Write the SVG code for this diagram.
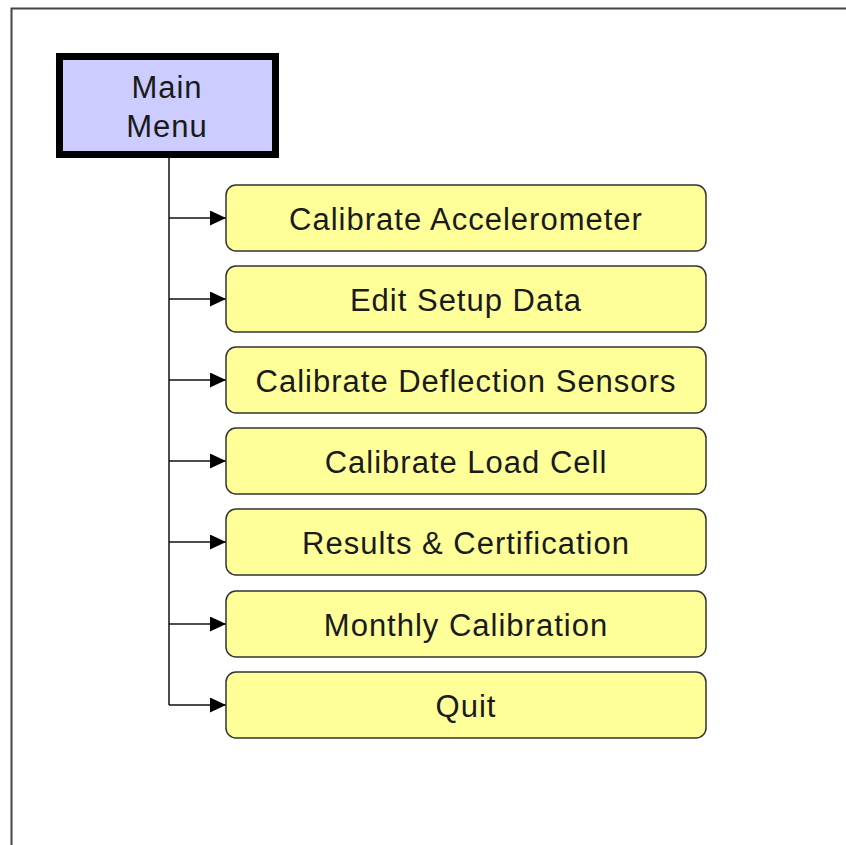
<svg xmlns="http://www.w3.org/2000/svg" width="846" height="845" viewBox="0 0 846 845">
<style>
.item rect{fill:#FFFF99;stroke:#333;stroke-width:1.5}
text{font-family:"Liberation Sans",Arial,sans-serif;font-size:31px;fill:#1a1a1a;text-anchor:middle;letter-spacing:1px}
.conn{stroke:#111;stroke-width:1.5;fill:none}
</style>
<defs>
<marker id="arr" markerWidth="16" markerHeight="15" refX="16" refY="7.5" orient="auto" markerUnits="userSpaceOnUse">
<path d="M0,0 L16,7.5 L0,15 Z" fill="#000"/>
</marker>
</defs>
<rect width="846" height="845" fill="#fff"/>
<path d="M11.5,845 V8.5 H846" fill="none" stroke="#444" stroke-width="2"/>
<g id="main">
<rect x="59.5" y="56.5" width="216" height="98" fill="#CCCCFF" stroke="#000" stroke-width="7"/>
<text x="167" y="98">Main</text>
<text x="167" y="137">Menu</text>
</g>
<g id="connectors">
<path class="conn" d="M169,158 V705"/>
<path class="conn" d="M169,218 H226" marker-end="url(#arr)"/>
<path class="conn" d="M169,299 H226" marker-end="url(#arr)"/>
<path class="conn" d="M169,380 H226" marker-end="url(#arr)"/>
<path class="conn" d="M169,461 H226" marker-end="url(#arr)"/>
<path class="conn" d="M169,542 H226" marker-end="url(#arr)"/>
<path class="conn" d="M169,624 H226" marker-end="url(#arr)"/>
<path class="conn" d="M169,705 H226" marker-end="url(#arr)"/>
</g>
<g id="n1" class="item"><rect x="226" y="185" width="480" height="66" rx="10"/><text x="466" y="230">Calibrate Accelerometer</text></g>
<g id="n2" class="item"><rect x="226" y="266" width="480" height="66" rx="10"/><text x="466" y="311">Edit Setup Data</text></g>
<g id="n3" class="item"><rect x="226" y="347" width="480" height="66" rx="10"/><text x="466" y="392">Calibrate Deflection Sensors</text></g>
<g id="n4" class="item"><rect x="226" y="428" width="480" height="66" rx="10"/><text x="466" y="473">Calibrate Load Cell</text></g>
<g id="n5" class="item"><rect x="226" y="509" width="480" height="66" rx="10"/><text x="466" y="554">Results &amp; Certification</text></g>
<g id="n6" class="item"><rect x="226" y="591" width="480" height="66" rx="10"/><text x="466" y="636">Monthly Calibration</text></g>
<g id="n7" class="item"><rect x="226" y="672" width="480" height="66" rx="10"/><text x="466" y="717">Quit</text></g>
</svg>
